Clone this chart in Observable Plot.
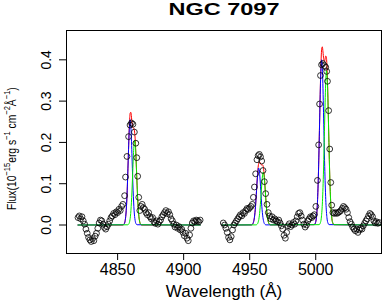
<!DOCTYPE html>
<html><head><meta charset="utf-8">
<script src="https://cdn.jsdelivr.net/npm/d3@7"></script>
<script src="https://cdn.jsdelivr.net/npm/@observablehq/plot@0.6"></script>
<style>body{margin:0;background:#fff}</style>
</head><body><div id="chart"></div>
<script>
const titleText = "NGC 7097";
const xLabelText = "Wavelength (Å)";
const xTicks = [4850, 4900, 4950, 5000];
const yTicks = [0, 0.1, 0.2, 0.3, 0.4];

// observed spectrum: [wavelength (Å), flux]
const observed = [
[4820,0.018],[4821,0.022],[4822,0.015],[4823,0.020],[4824,0.010],[4825,0.002],[4826,-0.010],[4827,-0.020],[4828,-0.030],[4829,-0.036],[4830,-0.040],[4831,-0.033],[4832,-0.038],[4833,-0.027],[4834,-0.020],[4835,-0.008],[4836,0.005],[4837,0.012],[4838,0.010],[4839,0.002],[4840,-0.006],[4841,-0.010],[4842,-0.004],[4843,0.002],[4844,0.010],[4845,0.018],[4846,0.022],[4847,0.028],[4848,0.025],[4849,0.032],[4850,0.030],[4851,0.038],[4852,0.035],[4853,0.045],[4854,0.050],
[4855.3,0.071],[4856.0,0.116],[4857.1,0.166],[4858.3,0.214],[4859.4,0.242],[4860.5,0.247],[4861.6,0.244],[4862.7,0.225],[4863.8,0.198],[4864.5,0.163],[4865.2,0.118],[4866.0,0.067],[4866.8,0.035],
[4867.7,0.045],[4868.6,0.050],[4869.5,0.042],[4870.5,0.038],[4871.5,0.030],[4872.5,0.025],[4873.5,0.030],[4874.5,0.020],[4875.5,0.015],[4876.5,0.018],[4877.5,0.008],[4878.5,0.004],[4879.5,0.010],[4880.5,0.002],[4881.5,0.008],[4882.5,0.012],[4883.5,0.020],[4884.5,0.025],[4885.5,0.030],[4886.5,0.035],[4887.5,0.028],[4888.5,0.032],[4889.5,0.025],[4890.5,0.015],[4891.5,0.010],[4892.5,0.002],[4893.5,-0.005],[4894.5,0.000],[4895.5,-0.008],[4896.5,-0.004],[4897.5,-0.012],[4898.5,-0.010],[4899.5,-0.018],[4900.5,-0.026],[4901.5,-0.020],[4902.5,-0.032],[4903.5,-0.038],[4904.5,-0.024],[4905.5,-0.008],[4906.5,0.005],[4907.5,0.010],[4908.5,0.008],[4909.5,0.012],[4910.5,0.010],[4911.5,0.008],[4912.5,0.012],
[4930,0.005],[4931,0.000],[4932,-0.008],[4933,-0.018],[4934,-0.030],[4935,-0.036],[4936,-0.028],[4937,-0.012],[4938,0.000],[4939,0.005],[4940,0.010],[4941,0.015],[4942,0.020],[4943,0.025],[4944,0.022],[4945,0.030],[4946,0.028],[4947,0.035],[4948,0.040],[4949,0.038],[4950,0.042],[4951,0.045],[4952,0.050],[4952.8,0.067],[4953.6,0.092],[4954.5,0.124],[4955.5,0.158],[4956.4,0.168],[4957.3,0.171],[4958.2,0.165],[4959.1,0.155],[4960.1,0.132],[4961.1,0.105],[4962.1,0.076],[4963.1,0.050],[4964.1,0.030],[4965,0.022],[4966,0.015],[4967,0.020],[4968,0.012],[4969,0.015],[4970,0.010],[4971,0.008],[4972,0.012],[4973,0.005],[4974,-0.002],[4975,-0.010],[4976,-0.025],[4977,-0.032],[4978,-0.018],[4979,-0.002],[4980,0.003],[4981,-0.004],[4982,0.000],[4983,0.006],[4984,0.002],[4985,0.010],[4986,0.020],[4987,0.028],[4988,0.030],[4989,0.022],[4990,0.012],[4991,0.002],[4992,-0.005],[4993,0.000],[4994,0.010],[4995,0.015],[4996,0.020],[4997,0.018],[4998,0.022],[4999,0.025],
[5000.1,0.045],[5001.3,0.108],[5002.2,0.194],[5002.9,0.293],[5003.6,0.362],[5004.4,0.388],[5005.4,0.391],[5006.6,0.386],[5007.6,0.382],[5008.3,0.372],[5008.9,0.348],[5009.8,0.277],[5010.6,0.184],[5011.4,0.103],[5012.1,0.048],
[5013,0.030],[5014,0.028],[5015,0.030],[5016,0.028],[5017,0.030],[5018,0.032],[5019,0.035],[5020,0.040],[5021,0.045],[5022,0.042],[5023,0.038],[5024,0.030],[5025,0.018],[5026,0.008],[5027,0.002],[5028,-0.005],[5029,-0.010],[5030,-0.014],[5031,-0.010],[5032,-0.018],[5033,-0.012],[5034,-0.008],[5035,-0.010],[5036,-0.002],[5037,0.004],[5038,0.010],[5039,0.015],[5040,0.022],[5041,0.028],[5042,0.025],[5043,0.020],[5044,0.010],[5045,0.005],[5046,0.008],[5047,0.004],[5048,0.006]
];

// narrow (blue) model components
const blueModel = [
[4820,0],
[4854.25,0.0006],[4855.0,0.0028],[4855.75,0.0112],[4856.5,0.0345],[4857.25,0.0828],[4858.0,0.1547],[4858.75,0.2250],[4859.5,0.255],[4860.25,0.2250],[4861.0,0.1547],[4861.75,0.0828],[4862.5,0.0345],[4863.25,0.0112],[4864.0,0.0028],[4864.75,0.0006],
[4912.6,0],[4920,null],[4929,0],
[4951.2,0.0003],[4952.0,0.0015],[4952.8,0.0061],[4953.6,0.0187],[4954.4,0.0448],[4955.2,0.0837],[4956.0,0.1218],[4956.8,0.138],[4957.6,0.1218],[4958.4,0.0837],[4959.2,0.0448],[4960.0,0.0187],[4960.8,0.0061],[4961.6,0.0015],[4962.4,0.0003],
[4998.9,0.0009],[4999.7,0.0044],[5000.5,0.0176],[5001.3,0.0541],[5002.1,0.1299],[5002.9,0.2426],[5003.7,0.3530],[5004.5,0.400],[5005.3,0.3530],[5006.1,0.2426],[5006.9,0.1299],[5007.7,0.0541],[5008.5,0.0176],[5009.3,0.0044],[5010.1,0.0009],
[5049.8,0]
];

// second (green) model components
const greenModel = [
[4820,0],
[4857.65,0.0005],[4858.4,0.0023],[4859.15,0.0090],[4859.9,0.0277],[4860.65,0.0666],[4861.4,0.1243],[4862.15,0.1809],[4862.9,0.205],[4863.65,0.1809],[4864.4,0.1243],[4865.15,0.0666],[4865.9,0.0277],[4866.65,0.0090],[4867.4,0.0023],[4868.15,0.0005],
[4912.6,0],[4920,null],[4929,0],
[4954.7,0.0003],[4955.5,0.0014],[4956.3,0.0056],[4957.1,0.0173],[4957.9,0.0416],[4958.7,0.0776],[4959.5,0.1130],[4960.3,0.128],[4961.1,0.1130],[4961.9,0.0776],[4962.7,0.0416],[4963.5,0.0173],[4964.3,0.0056],[4965.1,0.0014],[4965.9,0.0003],
[5002.6,0.0008],[5003.4,0.0042],[5004.2,0.0164],[5005.0,0.0506],[5005.8,0.1214],[5006.6,0.2268],[5007.4,0.3301],[5008.2,0.374],[5009.0,0.3301],[5009.8,0.2268],[5010.6,0.1214],[5011.4,0.0506],[5012.2,0.0164],[5013.0,0.0042],[5013.8,0.0008],
[5049.8,0]
];

// total (red) model
const redModel = [
[4820,0],[4854.0,0],[4854.5,0.001],[4855.0,0.0028],[4855.5,0.0073],[4856.0,0.0168],[4856.5,0.0345],[4857.0,0.0635],[4857.5,0.105],[4858.0,0.156],[4858.5,0.207],[4859.0,0.248],[4859.5,0.271],[4860.0,0.273],[4860.5,0.261],[4861.0,0.2465],[4861.5,0.237],[4862.0,0.235],[4862.5,0.232],[4863.0,0.221],[4863.5,0.1965],[4864.0,0.159],[4864.5,0.117],[4865.0,0.077],[4865.5,0.0457],[4866.0,0.0242],[4866.5,0.0115],[4867.0,0.004],[4867.5,0.0013],[4868.0,0],
[4912.6,0],[4920,null],[4929,0],
[4951.2,0.0003],[4952.0,0.0015],[4952.8,0.0061],[4953.6,0.0187],[4954.4,0.0448],[4955.0,0.074],[4955.5,0.101],[4956.0,0.125],[4956.5,0.143],[4957.0,0.152],[4957.5,0.153],[4958.0,0.150],[4958.5,0.1465],[4959.0,0.1456],[4959.5,0.146],[4960.0,0.1445],[4960.5,0.1365],[4961.0,0.121],[4961.5,0.098],[4962.0,0.0735],[4962.7,0.0416],[4963.5,0.0173],[4964.3,0.0056],[4965.1,0.0014],[4965.9,0.0003],
[4998.9,0.0009],[4999.7,0.0044],[5000.5,0.0176],[5001.3,0.0541],[5002.1,0.131],[5002.6,0.198],[5003.0,0.260],[5003.5,0.334],[5004.0,0.393],[5004.5,0.426],[5005.0,0.4315],[5005.5,0.419],[5006.0,0.403],[5006.5,0.396],[5007.0,0.400],[5007.5,0.409],[5008.0,0.408],[5008.5,0.385],[5009.0,0.338],[5009.5,0.272],[5010.0,0.200],[5010.6,0.1214],[5011.4,0.0506],[5012.2,0.0164],[5013.0,0.0042],[5013.8,0.0008],
[5049.8,0]
];

const font = "'Liberation Sans', Arial, Helvetica, sans-serif";
const lineOpts = (color) => ({x: d => d[0], y: d => d[1], stroke: color, strokeWidth: 1, curve: "monotone-x"});

const chart = Plot.plot({
  width: 382, height: 300,
  marginLeft: 66, marginRight: 1, marginTop: 30, marginBottom: 47,
  style: {fontFamily: font, background: "white", color: "black", overflow: "visible"},
  x: {domain: [4811.3, 5049.8]},
  y: {domain: [-0.069, 0.471]},
  marks: [
    Plot.line(redModel, lineOpts("#ff0000")),
    Plot.line(blueModel, lineOpts("#0000ff")),
    Plot.line(greenModel, lineOpts("#00ee00")),
    Plot.dot(observed, {x: d => d[0], y: d => d[1], r: 2.9, stroke: "black", strokeWidth: 0.8, fill: "none"}),
    Plot.frame({stroke: "black"}),
    Plot.axisX({ticks: xTicks, tickSize: 7, tickPadding: 3, fontSize: 16, tickFormat: d => String(d), label: null}),
    Plot.axisY({ticks: yTicks, tickSize: 7, tickPadding: 9, tickRotate: -90, tickFormat: d3.format(".1f"), fontSize: 14, label: null}),
    Plot.text([titleText], {text: d => d, frameAnchor: "top", dy: -21, fontSize: 17, fontWeight: "bold", lineAnchor: "middle"}),
    Plot.text([xLabelText], {text: d => d, frameAnchor: "bottom", dy: 38, fontSize: 17, lineAnchor: "middle"})
  ]
});
document.getElementById("chart").appendChild(chart);

const svg = d3.select(chart);
svg.selectAll("text").filter(function(){ return this.textContent === titleText; })
  .attr("textLength", 111).attr("lengthAdjust", "spacingAndGlyphs");

// y-axis label with superscripts, fitted to the reference span (y 87..210)
const yl = svg.append("text")
  .attr("text-anchor", "start")
  .attr("font-family", font)
  .attr("font-size", 13)
  .attr("fill", "black");
const parts = [["Flux(10",0],["\u221215",1],["erg s",0],["\u22121",1],[" cm",0],["\u22122",1],["Å",0],["\u22121",1],[")",0]];
let cur = 0;
for (const [t, sup] of parts) {
  const target = sup ? -6 : 0;
  yl.append("tspan").attr("dy", target - cur).attr("font-size", sup ? 9.5 : 13).text(t);
  cur = target;
}
const bb = yl.node().getBBox();
const k = bb.width > 0 ? 123 / bb.width : 0.8;
yl.attr("transform", `translate(16,210) rotate(-90) scale(${k},1) translate(${-bb.x},0)`);
</script>
</body></html>
